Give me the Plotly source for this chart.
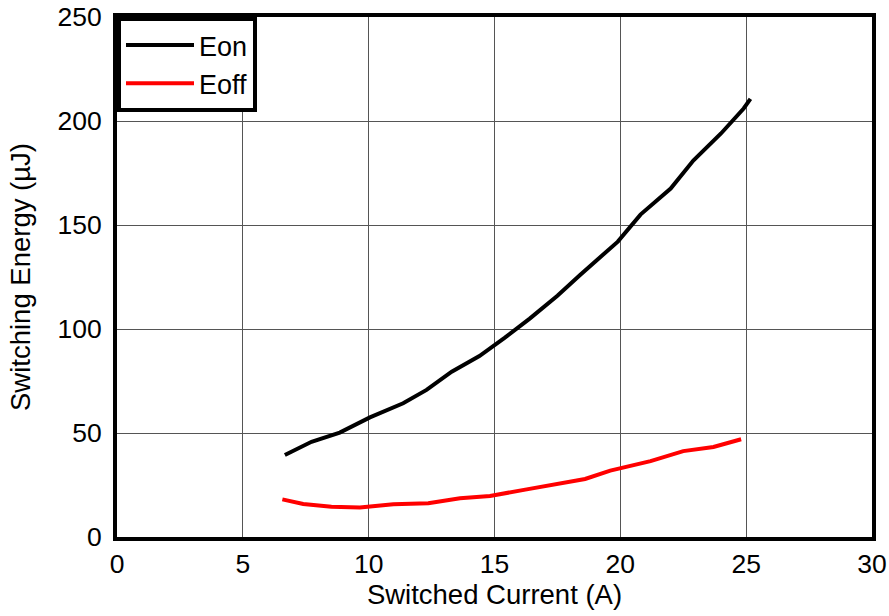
import plotly.graph_objects as go

eon_x = [6.67, 7.73, 8.85, 10.05, 11.37, 12.3, 13.3, 14.4, 15.4, 16.4, 17.5, 18.4, 19.9, 20.8, 22.0, 22.9, 24.0, 24.9, 25.17]
eon_y = [39.4, 45.8, 50.2, 57.5, 64.3, 70.7, 79.5, 87.0, 95.7, 105.0, 116.0, 126.0, 142.0, 155.0, 167.5, 181.0, 194.0, 206.0, 210.6]

eoff_x = [6.57, 7.4, 8.52, 9.65, 10.98, 12.37, 13.63, 14.82, 16.28, 17.6, 18.6, 19.6, 20.0, 21.2, 22.5, 23.7, 24.8]
eoff_y = [18.1, 15.9, 14.6, 14.2, 15.7, 16.2, 18.6, 19.7, 22.9, 25.8, 27.9, 31.9, 33.0, 36.5, 41.3, 43.3, 47.0]

x_ticks = [0, 5, 10, 15, 20, 25, 30]
y_ticks = [0, 50, 100, 150, 200, 250]

fam = "Liberation Sans, Arial, sans-serif"
tick_font = dict(family=fam, size=26.5, color="black")
title_font = dict(family=fam, size=27.5, color="black")
legend_font = dict(family=fam, size=27, color="black")

fig = go.Figure()
fig.add_trace(go.Scatter(x=eon_x, y=eon_y, mode="lines", name="Eon",
                         line=dict(color="black", width=4)))
fig.add_trace(go.Scatter(x=eoff_x, y=eoff_y, mode="lines", name="Eoff",
                         line=dict(color="#ff0000", width=4)))

fig.update_layout(
    width=889, height=616,
    margin=dict(l=117, r=17, t=17, b=79),
    paper_bgcolor="white", plot_bgcolor="white",
    font=title_font,
    showlegend=True,
    legend=dict(x=0, y=1, xanchor="left", yanchor="top",
                bgcolor="white", bordercolor="black", borderwidth=4,
                font=legend_font, itemwidth=68, tracegroupgap=0),
    xaxis=dict(range=[0, 30], tickvals=x_ticks, showgrid=True, gridcolor="#555555",
               gridwidth=1, showline=True, linecolor="black", linewidth=4, mirror=True,
               zeroline=False, ticks="", automargin=False, ticklabeloverflow="allow",
               title=dict(text="Switched Current (A)", standoff=0, font=title_font),
               tickfont=tick_font),
    yaxis=dict(range=[0, 250], tickvals=y_ticks, showgrid=True, gridcolor="#555555",
               gridwidth=1, showline=True, linecolor="black", linewidth=4, mirror=True,
               zeroline=False, ticks="", automargin=False, ticklabeloverflow="allow",
               ticklabelstandoff=6,
               title=dict(text="Switching Energy (µJ)", standoff=20, font=title_font),
               tickfont=tick_font),
)

fig.write_html("out.html",
               config={"displayModeBar": False},
               post_script="document.body.style.margin='0';document.body.style.overflow='hidden';")
